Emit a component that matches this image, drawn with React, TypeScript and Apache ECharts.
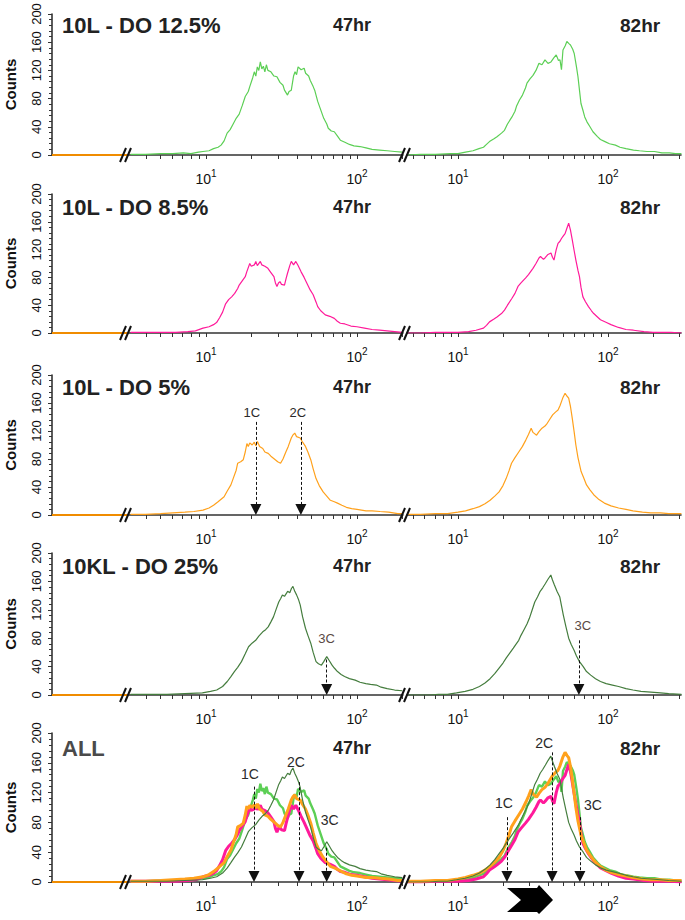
import React, { useEffect, useRef } from 'react';
import * as echarts from 'echarts';

// ---------- text ----------
const panelTitles = ['10L - DO 12.5%', '10L - DO 8.5%', '10L - DO 5%', '10KL - DO 25%', 'ALL'];
const timePoints = ['47hr', '82hr'];
const countTicks = [0, 40, 80, 120, 160, 200];
const decadeLabels = [1, 2]; // 10^1, 10^2
const minorFactors = [2, 3, 4, 5, 6, 7, 8, 9];

// ---------- data (x = log10 fluorescence, y = counts) ----------
const preBreakCounts = [0, 0, 0, 0, 0];

const green47 = [[0.50,1],[0.60,1],[0.70,2],[0.78,2],[0.85,3],[0.90,2],[0.95,4],[0.98,5],[1.02,6],[1.05,9],[1.08,11],[1.10,14],[1.12,20],[1.14,31],[1.16,36],[1.18,44],[1.20,52],[1.22,58],[1.24,70],[1.26,83],[1.28,90],[1.29,97],[1.31,110],[1.32,118],[1.33,112],[1.34,125],[1.35,120],[1.36,132],[1.37,122],[1.38,126],[1.39,118],[1.40,128],[1.41,120],[1.43,118],[1.45,112],[1.47,111],[1.49,103],[1.51,99],[1.52,92],[1.54,85],[1.55,90],[1.565,92],[1.58,112],[1.59,118],[1.60,114],[1.61,125],[1.63,121],[1.65,123],[1.66,116],[1.68,112],[1.69,106],[1.71,97],[1.72,92],[1.74,76],[1.76,64],[1.78,52],[1.80,44],[1.81,38],[1.83,34],[1.85,33],[1.87,27],[1.89,21],[1.92,18],[1.95,15],[1.98,13],[2.02,12],[2.06,10],[2.10,8],[2.15,7],[2.20,6],[2.25,5],[2.30,4]];
const green82 = [[0.66,0],[0.75,1],[0.85,1],[0.95,2],[1.00,2],[1.05,4],[1.10,6],[1.14,9],[1.17,11],[1.19,15],[1.21,19],[1.24,23],[1.26,26],[1.29,31],[1.31,35],[1.33,44],[1.36,54],[1.38,62],[1.39,69],[1.41,78],[1.43,85],[1.45,95],[1.46,102],[1.48,108],[1.50,113],[1.52,120],[1.54,130],[1.56,128],[1.58,135],[1.60,130],[1.62,132],[1.64,138],[1.655,142],[1.67,134],[1.68,135],[1.69,121],[1.70,149],[1.715,155],[1.726,161],[1.74,158],[1.75,156],[1.765,150],[1.775,144],[1.79,125],[1.80,111],[1.81,92],[1.82,73],[1.835,62],[1.845,54],[1.86,47],[1.88,40],[1.90,33],[1.93,26],[1.95,22],[1.98,19],[2.01,16],[2.05,14],[2.08,11],[2.12,9],[2.17,7],[2.21,6],[2.26,5],[2.31,5],[2.36,3],[2.41,3],[2.45,2],[2.49,2]];
const magenta47 = [[0.50,1],[0.60,1],[0.70,1],[0.80,1],[0.88,2],[0.93,3],[0.98,7],[1.02,9],[1.05,12],[1.07,15],[1.09,22],[1.11,30],[1.13,42],[1.15,48],[1.17,52],[1.19,57],[1.21,64],[1.22,69],[1.24,75],[1.26,81],[1.27,88],[1.29,100],[1.30,96],[1.32,98],[1.33,103],[1.34,97],[1.36,103],[1.37,98],[1.39,96],[1.41,93],[1.43,87],[1.45,81],[1.46,72],[1.47,67],[1.48,72],[1.49,74],[1.50,70],[1.52,69],[1.53,78],[1.54,86],[1.555,97],[1.565,103],[1.58,98],[1.595,103],[1.61,97],[1.63,88],[1.65,80],[1.67,71],[1.69,62],[1.71,55],[1.73,44],[1.74,38],[1.76,32],[1.79,26],[1.82,24],[1.85,21],[1.87,17],[1.89,14],[1.92,13],[1.96,10],[2.00,9],[2.05,7],[2.10,5],[2.15,4],[2.20,3],[2.25,2],[2.30,1]];
const magenta82 = [[0.66,0],[0.75,0],[0.85,1],[0.93,1],[1.00,1],[1.07,2],[1.12,4],[1.17,7],[1.19,11],[1.21,16],[1.24,20],[1.26,23],[1.29,28],[1.31,33],[1.33,40],[1.36,50],[1.38,57],[1.40,67],[1.42,72],[1.45,79],[1.47,84],[1.50,93],[1.52,100],[1.54,108],[1.55,110],[1.57,106],[1.58,108],[1.60,113],[1.62,115],[1.63,109],[1.64,105],[1.655,120],[1.667,129],[1.68,132],[1.69,136],[1.70,139],[1.714,143],[1.725,150],[1.738,158],[1.75,148],[1.762,134],[1.775,118],[1.786,105],[1.80,90],[1.81,81],[1.82,66],[1.833,52],[1.85,45],[1.87,38],[1.89,32],[1.905,28],[1.93,23],[1.95,19],[1.99,15],[2.02,12],[2.07,8],[2.12,5],[2.17,4],[2.24,2],[2.30,1],[2.36,1],[2.42,1],[2.49,0]];
const orange47 = [[0.50,1],[0.60,1],[0.70,2],[0.78,3],[0.86,4],[0.92,5],[0.98,7],[1.02,10],[1.05,14],[1.08,19],[1.12,26],[1.14,34],[1.165,43],[1.18,52],[1.20,64],[1.21,74],[1.23,76],[1.247,79],[1.26,90],[1.271,102],[1.28,98],[1.29,103],[1.306,100],[1.32,104],[1.33,99],[1.341,105],[1.355,98],[1.376,95],[1.39,90],[1.412,88],[1.43,84],[1.459,79],[1.475,76],[1.494,74],[1.51,80],[1.529,90],[1.545,98],[1.565,110],[1.575,114],[1.588,117],[1.60,112],[1.624,110],[1.64,104],[1.659,98],[1.675,90],[1.694,79],[1.71,66],[1.729,52],[1.75,42],[1.776,33],[1.80,27],[1.824,21],[1.85,19],[1.871,17],[1.90,14],[1.93,11],[1.965,9],[2.00,8],[2.06,6],[2.10,6],[2.153,5],[2.21,4],[2.27,2],[2.30,2]];
const orange82 = [[0.66,1],[0.75,1],[0.85,2],[0.93,2],[1.00,4],[1.05,6],[1.10,9],[1.143,12],[1.18,16],[1.214,21],[1.245,27],[1.274,33],[1.30,42],[1.321,52],[1.34,63],[1.357,74],[1.38,82],[1.405,90],[1.43,98],[1.452,107],[1.47,115],[1.488,124],[1.50,118],[1.524,114],[1.54,119],[1.56,124],[1.58,127],[1.595,131],[1.61,136],[1.631,143],[1.65,147],[1.667,150],[1.68,156],[1.69,162],[1.70,168],[1.714,174],[1.726,170],[1.738,167],[1.75,155],[1.762,138],[1.775,118],[1.786,100],[1.80,82],[1.821,62],[1.84,52],[1.857,43],[1.88,36],[1.905,29],[1.94,22],[1.976,17],[2.02,13],[2.071,10],[2.12,8],[2.167,6],[2.23,4],[2.286,3],[2.35,3],[2.405,2],[2.49,2]];
const dark47 = [[0.50,1],[0.62,1],[0.741,1],[0.86,2],[0.976,3],[1.03,5],[1.071,7],[1.11,12],[1.141,19],[1.165,26],[1.188,33],[1.21,39],[1.235,47],[1.26,58],[1.282,68],[1.305,73],[1.329,77],[1.35,83],[1.376,89],[1.395,92],[1.412,96],[1.43,103],[1.447,110],[1.465,121],[1.482,131],[1.495,136],[1.506,141],[1.52,139],[1.541,146],[1.555,144],[1.566,150],[1.576,153],[1.588,146],[1.60,141],[1.612,135],[1.624,127],[1.64,110],[1.659,94],[1.675,84],[1.694,73],[1.71,60],[1.729,47],[1.745,44],[1.765,42],[1.78,47],[1.80,54],[1.815,49],[1.835,42],[1.85,38],[1.871,33],[1.895,29],[1.918,26],[1.95,23],[1.988,21],[2.02,18],[2.059,16],[2.09,15],[2.129,14],[2.16,11],[2.2,9],[2.25,7],[2.30,6]];
const dark82 = [[0.66,0],[0.75,0],[0.81,0],[0.87,1],[0.929,1],[0.99,3],[1.048,5],[1.10,8],[1.143,12],[1.18,17],[1.214,23],[1.245,30],[1.274,38],[1.30,45],[1.321,52],[1.345,59],[1.369,66],[1.385,71],[1.405,77],[1.42,84],[1.44,92],[1.46,100],[1.476,108],[1.495,120],[1.512,131],[1.53,138],[1.548,146],[1.565,151],[1.583,157],[1.60,163],[1.619,169],[1.63,162],[1.643,155],[1.66,146],[1.679,138],[1.69,126],[1.702,113],[1.72,96],[1.738,80],[1.755,71],[1.774,63],[1.79,55],[1.81,47],[1.835,40],[1.857,33],[1.885,28],[1.917,23],[1.95,19],[1.988,16],[2.03,14],[2.071,12],[2.12,9],[2.167,7],[2.22,5],[2.286,4],[2.35,3],[2.405,2],[2.49,1]];

// ploidy markers: fluorescence value and the count where the dashed line starts
const markRows = [2, 2, 3, 3, 4, 4, 4, 4, 4, 4];
const markHalves = [0, 0, 0, 1, 0, 0, 0, 1, 1, 1];
const markNames = ['1C', '2C', '3C', '3C', '1C', '2C', '3C', '1C', '2C', '3C'];
const markValues = [21.4, 42.5, 63, 64, 20.8, 41.3, 63, 21.2, 42.4, 65];
const markTops = [133, 133, 50, 77, 128, 134, 46, 87, 174, 87];

// ---------- styles / layout ----------
const ROW_TOP = [14, 194, 375, 553, 733];
const ROW_BOTTOM = [155, 333, 515, 695, 882];
const TITLE_Y = [25, 207, 387, 566, 748];
const SEGS = [
  { left: 52, right: 127, min: 0, max: 4 },
  { left: 129, right: 403, min: 0.49, max: 2.305 },
  { left: 407, right: 681, min: 0.66, max: 2.487 },
];
const BREAKS = [126, 405];
const COL = { green: '#5ccf55', magenta: '#ff1a9a', orange: '#ffa11c', dark: '#457d3e', pre: '#f08c00' };
const markGap = [3, 3, 15, 8, 6, 13, 21, 7, 2, 5];
const markShift = [-4, -3, 0, 4, -4, -3, 3, -3, -8, 13];
const FONT = '"Liberation Sans", Arial, sans-serif';

const curvesByRow = [
  [[green47, COL.green], [green82, COL.green]],
  [[magenta47, COL.magenta], [magenta82, COL.magenta]],
  [[orange47, COL.orange], [orange82, COL.orange]],
  [[dark47, COL.dark], [dark82, COL.dark]],
];
const overlay47 = [[green47, COL.green, 2.4], [magenta47, COL.magenta, 3], [orange47, COL.orange, 3], [dark47, COL.dark, 1.2]];
const overlay82 = [[green82, COL.green, 2.4], [magenta82, COL.magenta, 3], [orange82, COL.orange, 3], [dark82, COL.dark, 1.2]];

function tickValues(min: number, max: number) {
  const out: number[] = [];
  for (let e = 0; e <= 2; e++) {
    out.push(e);
    for (const f of minorFactors) out.push(Math.log10(f) + e);
  }
  return out.filter((v) => v >= min - 1e-9 && v <= max + 1e-9);
}

function buildOption() {
  const grid: any[] = [];
  const xAxis: any[] = [];
  const yAxis: any[] = [];
  const series: any[] = [];
  const graphic: any[] = [];

  for (let r = 0; r < 5; r++) {
    const top = ROW_TOP[r];
    const bottom = ROW_BOTTOM[r];
    const h = bottom - top;
    const pxPerCount = h / 200;
    SEGS.forEach((s, k) => {
      const gi = r * 3 + k;
      grid.push({ left: s.left, top, width: s.right - s.left, height: h, containLabel: false });
      const xa: any = {
        type: 'value', gridIndex: gi, min: s.min, max: s.max,
        axisLine: { show: true, onZero: false, lineStyle: { color: '#333', width: 1.6 } },
        splitLine: { show: false },
      };
      if (k === 0) {
        xa.axisTick = { show: false };
        xa.axisLabel = { show: false };
      } else {
        xa.axisTick = { show: true, customValues: tickValues(s.min, s.max), length: 4, lineStyle: { color: '#333', width: 1 } };
        xa.axisLabel = {
          show: true, customValues: decadeLabels, margin: 13,
          formatter: (v: number) => `{b|10}{s|${Math.round(v)}}`,
          rich: {
            b: { fontSize: 14, fontFamily: FONT, color: '#111', lineHeight: 18, verticalAlign: 'bottom' },
            s: { fontSize: 10, fontFamily: FONT, color: '#111', verticalAlign: 'top' },
          },
        };
      }
      xAxis.push(xa);
      const ya: any = { type: 'value', gridIndex: gi, min: 0, max: 200, interval: 40, splitLine: { show: false } };
      if (k === 0) {
        Object.assign(ya, {
          axisLine: { show: true, lineStyle: { color: '#333', width: 1.6 } },
          axisTick: { show: true, length: 4, lineStyle: { color: '#333' } },
          minorTick: { show: true, splitNumber: 5, length: 3, lineStyle: { color: '#333' } },
          axisLabel: { show: true, rotate: 90, margin: 9, fontSize: 13, fontFamily: FONT, color: '#111',
            formatter: (v: number) => (countTicks.includes(v) ? String(v) : '') },
          name: 'Counts', nameLocation: 'middle', nameRotate: 90, nameGap: 34,
          nameTextStyle: { fontSize: 15, fontWeight: 'bold', fontFamily: FONT, color: '#111' },
        });
      } else {
        ya.show = false;
      }
      yAxis.push(ya);
    });

    // pre-break flat trace
    series.push({
      type: 'line', xAxisIndex: r * 3, yAxisIndex: r * 3, showSymbol: false, silent: true,
      data: preBreakCounts.map((c, i) => [i, c]),
      lineStyle: { color: COL.pre, width: 2 },
    });

    for (let half = 0; half < 2; half++) {
      const gi = r * 3 + 1 + half;
      const traces: any[] = r < 4
        ? [[curvesByRow[r][half][0], curvesByRow[r][half][1], 1.2]]
        : (half === 0 ? overlay47 : overlay82);
      const marks: any[] = [];
      markNames.forEach((nm, i) => {
        if (markRows[i] !== r || markHalves[i] !== half) return;
        const x = Math.log10(markValues[i]);
        const sh = markShift[i];
        const pad = sh >= 0 ? [0, 0, 0, 2 * sh] : [0, -2 * sh, 0, 0];
        marks.push([
          {
            coord: [x, markTops[i]], name: nm,
            label: {
              show: true, position: 'start', distance: markGap[i],
              formatter: (p: any) => `{t|${p.name}}`,
              rich: { t: { fontSize: r === 4 ? 14 : 13, fontFamily: FONT, color: r === 3 ? '#5a4a44' : '#2a2a2a', padding: pad } },
            },
          },
          { coord: [x, 5.5 / pxPerCount] },
        ]);
      });
      traces.forEach((t, ti) => {
        const s: any = {
          type: 'line', xAxisIndex: gi, yAxisIndex: gi, showSymbol: false, silent: true,
          data: t[0], lineStyle: { color: t[1], width: t[2] }, emphasis: { disabled: true },
        };
        if (ti === traces.length - 1 && marks.length) {
          s.markLine = {
            silent: true, animation: false, symbol: ['none', 'triangle'], symbolSize: 11,
            lineStyle: { type: [3, 2], color: '#111', width: 1 },
            itemStyle: { color: '#111' },
            emphasis: { disabled: true },
            data: marks,
          };
        }
        series.push(s);
      });
    }

    // titles
    graphic.push({
      type: 'text', z: 100, x: 62, y: TITLE_Y[r],
      style: { text: panelTitles[r], font: `bold 22px ${FONT}`, fill: r === 4 ? '#4a4a4a' : '#222', textVerticalAlign: 'middle', verticalAlign: 'middle' },
    });
    graphic.push({
      type: 'text', z: 100, x: 333, y: TITLE_Y[r],
      style: { text: timePoints[0], font: `bold 18px ${FONT}`, fill: '#222', textVerticalAlign: 'middle', verticalAlign: 'middle' },
    });
    graphic.push({
      type: 'text', z: 100, x: 620, y: TITLE_Y[r],
      style: { text: timePoints[1], font: `bold 19px ${FONT}`, fill: '#222', textVerticalAlign: 'middle', verticalAlign: 'middle' },
    });
    // axis break marks
    BREAKS.forEach((bx) => {
      [-3, 2].forEach((dx) => {
        graphic.push({
          type: 'line', z: 100,
          shape: { x1: bx + dx - 3, y1: bottom + 7, x2: bx + dx + 3, y2: bottom - 7 },
          style: { stroke: '#111', lineWidth: 2 },
        });
      });
    });
  }

  // block arrow below the last panel
  graphic.push({
    type: 'polygon', z: 100,
    shape: { points: [[507, 888], [537, 888], [539, 885], [553, 900], [539, 914], [537, 912], [507, 912], [521, 900]] },
    style: { fill: '#000' },
  });

  return { animation: false, backgroundColor: '#fff', grid, xAxis, yAxis, series, graphic };
}

export default function App() {
  const ref = useRef<HTMLDivElement>(null);
  useEffect(() => {
    if (!ref.current) return;
    const chart = echarts.init(ref.current, undefined, { renderer: 'svg' });
    chart.setOption(buildOption() as any);
    return () => chart.dispose();
  }, []);
  return <div ref={ref} style={{ position: 'absolute', left: 0, top: 0, width: 685, height: 920, background: '#fff' }} />;
}
